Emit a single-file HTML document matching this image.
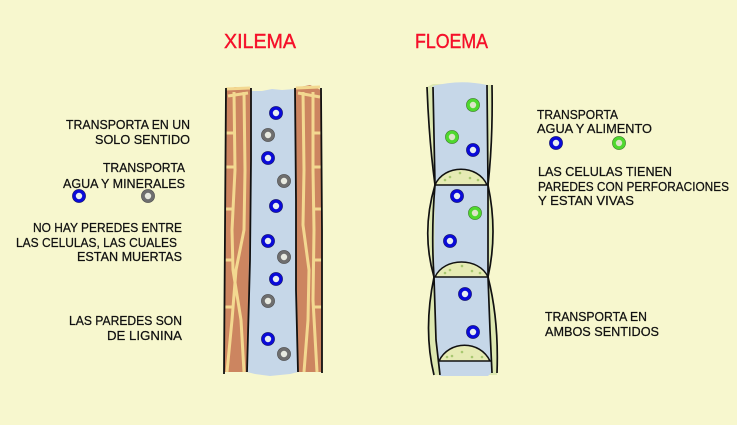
<!DOCTYPE html>
<html>
<head>
<meta charset="utf-8">
<style>
html,body{margin:0;padding:0;background:#F7F7CE;}
svg{display:block;}
text{font-family:"Liberation Sans",sans-serif;font-size:13px;fill:#111;stroke:#111;stroke-width:.25;}
.t{font-size:20px;fill:#F5102A;stroke:#F5102A;stroke-width:.4;}
</style>
</head>
<body>
<svg width="737" height="425" viewBox="0 0 737 425" xmlns="http://www.w3.org/2000/svg">
<defs>
<g id="b"><circle r="6.9" fill="#1A1A50"/><circle r="4.8" fill="#E8EEF0" stroke="#0A0AD8" stroke-width="3.2"/></g>
<g id="g"><circle r="6.9" fill="#444"/><circle r="4.8" fill="#E8EAE0" stroke="#6E6E6E" stroke-width="3.2"/></g>
<g id="v"><circle r="6.9" fill="#3A6A2A"/><circle r="4.8" fill="#DDE4C8" stroke="#4FD82E" stroke-width="3.2"/></g>
</defs>
<rect width="737" height="425" fill="#F7F7CE"/>

<!-- XILEMA -->
<path d="M251 91L262 91L272 89L282 90L295 89L298 372L290 374L270 376L255 374L247 372Z" fill="#C6D7E8"/>
<path d="M226 90L235 87L251 88L251 150L249 260L247 372L224 372L225 230Z" fill="#CC8560"/>
<path d="M295 88L310 85L321 90L322 230L322 372L298 372L296 260L295 150Z" fill="#CC8560"/>
<g fill="none" stroke="#F3D890" stroke-width="3">
<path d="M226 89L250 88"/>
<path d="M296 88L320 87"/>
<path d="M228 96L248 93"/>
<path d="M298 93L320 97"/>
<path d="M234 92L235 170L232 230L233 270L241 320L244 372"/>
<path d="M244 92L245 170L244 230L236 270L232 320L227 372"/>
<path d="M226 133H234M226 167H234M226 209H233M225 260H233M225 307H233"/>
<path d="M303 92L304 170L303 225L309 270L308 320L304 372"/>
<path d="M313 92L313 170L314 230L313 300L317 372"/>
<path d="M313 133H321M313 167H321M313 209H321M314 260H322M314 307H322"/>
</g>
<g fill="none" stroke="#111" stroke-width="1.8">
<path d="M226 88L225 230L224 374"/>
<path d="M251 88L251 160L250 260L247 372"/>
<path d="M295 88L296 200L296 290L298 372"/>
<path d="M321 88L322 230L322 373"/>
</g>
<use href="#b" x="276" y="113"/>
<use href="#g" x="268" y="135"/>
<use href="#b" x="268" y="158"/>
<use href="#g" x="284" y="181"/>
<use href="#b" x="276" y="206"/>
<use href="#b" x="268" y="241"/>
<use href="#g" x="284" y="257"/>
<use href="#b" x="276" y="279"/>
<use href="#g" x="268" y="301"/>
<use href="#b" x="268" y="339"/>
<use href="#g" x="284" y="354"/>

<!-- FLOEMA -->
<path d="M427 87L433 84L492 85L488 185L435 185Z" fill="#DDE8B0"/>
<path d="M435 185Q424 230 434 277L488 277Q498 230 488 185Z" fill="#DDE8B0"/>
<path d="M434 277Q424 330 434 375L497 375Q500 320 488 277Z" fill="#DDE8B0"/>
<path d="M433 86Q460 79 487 85L488 140L488 185L489 277L490 330L492 372L488 376L440 376L437 340L434 277L435 185Z" fill="#C6D7E8"/>
<path d="M435 185C444 164 478 164 487 185Z" fill="#E6EBB4" stroke="#111" stroke-width="1.5"/>
<path d="M435 277C444 257 479 257 488 277Z" fill="#E6EBB4" stroke="#111" stroke-width="1.5"/>
<path d="M439 361C449 340 480 340 490 361Z" fill="#E6EBB4" stroke="#111" stroke-width="1.5"/>
<g fill="#A8C870">
<circle cx="450" cy="177" r="1.3"/><circle cx="460" cy="173" r="1.3"/><circle cx="470" cy="178" r="1.3"/><circle cx="445" cy="180" r="1.3"/><circle cx="478" cy="180" r="1.3"/>
<circle cx="450" cy="270" r="1.3"/><circle cx="462" cy="266" r="1.3"/><circle cx="472" cy="271" r="1.3"/><circle cx="445" cy="273" r="1.3"/><circle cx="480" cy="273" r="1.3"/>
<circle cx="452" cy="356" r="1.3"/><circle cx="462" cy="352" r="1.3"/><circle cx="472" cy="357" r="1.3"/><circle cx="447" cy="357" r="1.3"/><circle cx="482" cy="357" r="1.3"/>
</g>
<g fill="none" stroke="#111" stroke-width="1.7">
<path d="M427 87Q429 140 435 185Q421 232 434 277Q423 330 434 375"/>
<path d="M433 87L435 185Q431 232 434 277L436 340L440 375"/>
<path d="M487 85L488 185L488 277L490 330L492 373"/>
<path d="M492 85Q493 140 488 185Q498 232 488 277Q499 320 497 373"/>
</g>
<use href="#v" x="473" y="105"/>
<use href="#v" x="452" y="137"/>
<use href="#b" x="473" y="150"/>
<use href="#b" x="457" y="196"/>
<use href="#v" x="475" y="213"/>
<use href="#b" x="450" y="241"/>
<use href="#b" x="465" y="294"/>
<use href="#b" x="473" y="332"/>

<!-- legends -->
<use href="#b" x="79" y="196"/>
<use href="#g" x="148" y="196"/>
<use href="#b" x="556" y="143"/>
<use href="#v" x="619" y="143"/>

<!-- titles -->
<text class="t" x="224" y="48" textLength="72" lengthAdjust="spacingAndGlyphs">XILEMA</text>
<text class="t" x="415" y="48" textLength="73" lengthAdjust="spacingAndGlyphs">FLOEMA</text>

<!-- left labels -->
<text x="66" y="129" textLength="124" lengthAdjust="spacingAndGlyphs">TRANSPORTA EN UN</text>
<text x="95" y="144" textLength="95" lengthAdjust="spacingAndGlyphs">SOLO SENTIDO</text>
<text x="103" y="172" textLength="82" lengthAdjust="spacingAndGlyphs">TRANSPORTA</text>
<text x="63" y="188" textLength="122" lengthAdjust="spacingAndGlyphs">AGUA Y MINERALES</text>
<text x="33" y="232" textLength="149" lengthAdjust="spacingAndGlyphs">NO HAY PEREDES ENTRE</text>
<text x="16" y="247" textLength="161" lengthAdjust="spacingAndGlyphs">LAS CELULAS, LAS CUALES</text>
<text x="77" y="261" textLength="105" lengthAdjust="spacingAndGlyphs">ESTAN MUERTAS</text>
<text x="69" y="325" textLength="113" lengthAdjust="spacingAndGlyphs">LAS PAREDES SON</text>
<text x="107" y="340" textLength="75" lengthAdjust="spacingAndGlyphs">DE LIGNINA</text>

<!-- right labels -->
<text x="537" y="119" textLength="81" lengthAdjust="spacingAndGlyphs">TRANSPORTA</text>
<text x="537" y="133" textLength="115" lengthAdjust="spacingAndGlyphs">AGUA Y ALIMENTO</text>
<text x="538" y="176" textLength="134" lengthAdjust="spacingAndGlyphs">LAS CELULAS TIENEN</text>
<text x="538" y="191" textLength="191" lengthAdjust="spacingAndGlyphs">PAREDES CON PERFORACIONES</text>
<text x="538" y="205" textLength="96" lengthAdjust="spacingAndGlyphs">Y ESTAN VIVAS</text>
<text x="545" y="321" textLength="102" lengthAdjust="spacingAndGlyphs">TRANSPORTA EN</text>
<text x="545" y="336" textLength="114" lengthAdjust="spacingAndGlyphs">AMBOS SENTIDOS</text>
</svg>
</body>
</html>
